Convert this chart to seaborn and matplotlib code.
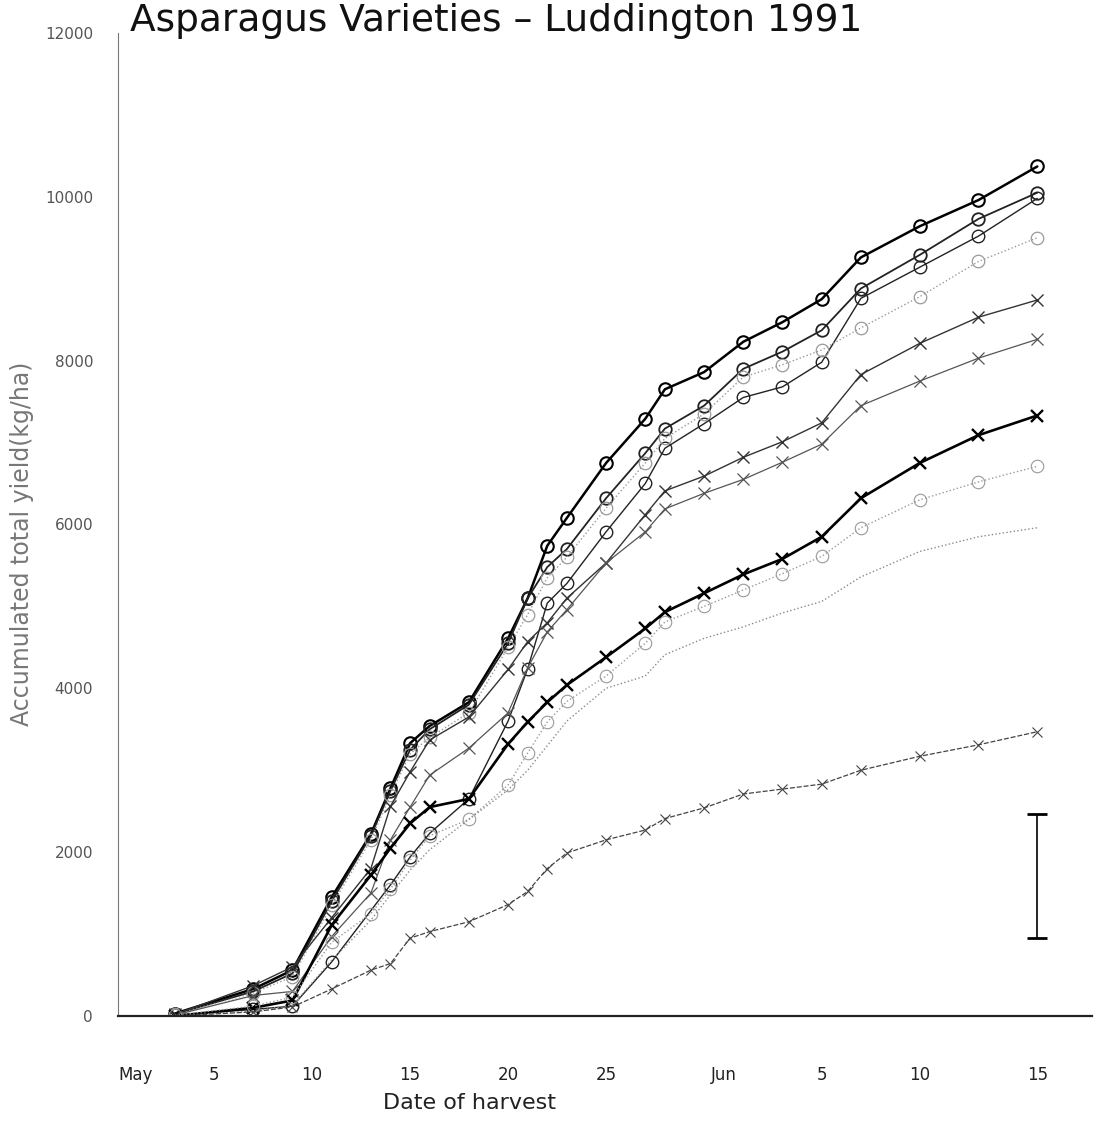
import numpy as np
import pandas as pd
import matplotlib
matplotlib.use("Agg")
import matplotlib.pyplot as plt
import seaborn as sns

# ---- data ----
harvest_day = [3, 7, 9, 11, 13, 14, 15, 16, 18, 20, 21, 22, 23, 25, 27, 28, 30, 32, 34, 36, 38, 41, 44, 47]

var_a = [30, 330, 560, 1450, 2220, 2780, 3330, 3540, 3830, 4610, 5100, 5740, 6080, 6750, 7290, 7650, 7860, 8230, 8470, 8750, 9260, 9640, 9960, 10370]
var_b = [20, 300, 520, 1400, 2200, 2750, 3250, 3500, 3800, 4550, 5100, 5480, 5700, 6320, 6870, 7170, 7450, 7900, 8110, 8370, 8880, 9290, 9730, 10050]
var_c = [10, 80, 120, 660, None, 1600, 1940, 2230, 2650, 3600, 4240, 5040, 5280, 5910, 6500, 6930, 7230, 7550, 7680, 7980, 8760, 9140, 9520, 9980]
var_d = [20, 280, 480, 1350, 2150, 2700, 3200, 3400, 3700, 4500, 4900, 5350, 5600, 6200, 6750, 7050, 7350, 7800, 7950, 8130, 8400, 8780, 9210, 9500]
var_e = [20, 370, 600, 1200, 1800, 2560, 2980, 3370, 3650, 4230, 4570, 4800, 5100, 5530, 6120, 6410, 6590, 6820, 7010, 7240, 7830, 8210, 8530, 8740]
var_f = [10, 250, 300, 970, 1500, 2150, 2550, 2940, 3270, 3700, 4250, 4690, 4960, 5530, 5910, 6190, 6380, 6550, 6760, 6980, 7450, 7750, 8030, 8260]
var_g = [0, 100, 190, 1110, 1720, 2050, 2350, 2550, 2650, 3320, 3590, 3830, 4040, 4380, 4730, 4930, 5160, 5390, 5580, 5850, 6320, 6750, 7090, 7330]
var_h = [10, 120, 230, 900, 1250, 1550, 1900, 2200, 2400, 2820, 3210, 3590, 3840, 4150, 4550, 4810, 5000, 5200, 5400, 5610, 5960, 6300, 6520, 6710]
var_i = [0, 60, 130, 680, 1170, 1480, 1780, 2030, 2400, 2760, 3000, 3300, 3600, 4000, 4150, 4410, 4610, 4750, 4920, 5060, 5360, 5670, 5850, 5960]
var_j = [0, 50, 110, 330, 560, 640, 950, 1030, 1150, 1360, 1520, 1800, 1990, 2150, 2270, 2410, 2540, 2710, 2770, 2830, 3000, 3170, 3310, 3470]

series_names = ["A", "B", "C", "D", "E", "F", "G", "H", "I", "J"]
series_values = [var_a, var_b, var_c, var_d, var_e, var_f, var_g, var_h, var_i, var_j]

tick_pos = [1, 5, 10, 15, 20, 25, 31, 36, 41, 47]
tick_labels = ["May", "5", "10", "15", "20", "25", "Jun", "5", "10", "15"]

lsd_day = [47]
lsd_center = [1710]
lsd_half = [760]

# ---- styles ----
styles = {
    "A": dict(color="black", lw=1.8, ls="-", marker="o", ms=9, mew=1.5),
    "B": dict(color="#222222", lw=1.3, ls="-", marker="o", ms=9, mew=1.3),
    "C": dict(color="#222222", lw=1.0, ls="-", marker="o", ms=9, mew=1.0),
    "D": dict(color="#9a9a9a", lw=1.0, ls=":", marker="o", ms=9, mew=0.9),
    "E": dict(color="#333333", lw=1.0, ls="-", marker="x", ms=8, mew=1.0),
    "F": dict(color="#555555", lw=0.9, ls="-", marker="x", ms=8, mew=0.9),
    "G": dict(color="black", lw=1.9, ls="-", marker="x", ms=9, mew=1.7),
    "H": dict(color="#9a9a9a", lw=1.0, ls=":", marker="o", ms=9, mew=0.8),
    "I": dict(color="#8a8a8a", lw=1.0, ls=":", marker=None, ms=0, mew=0),
    "J": dict(color="#444444", lw=0.9, ls=(0, (4, 1.5)), marker="x", ms=7, mew=0.8),
}

sns.set_style("white")
plt.rcParams["font.family"] = ["DejaVu Sans"]

fig = plt.figure(figsize=(10.97, 11.24), dpi=100)
ax = fig.add_axes([0.1076, 0.0961, 0.888, 0.8746])

for name, vals in zip(series_names, series_values):
    df = pd.DataFrame({"day": harvest_day, "yield": vals}).dropna()
    st = styles[name]
    kw = dict(x="day", y="yield", data=df, ax=ax, color=st["color"],
              linewidth=st["lw"], linestyle=st["ls"], legend=False)
    if st["marker"]:
        kw.update(marker=st["marker"], markersize=st["ms"],
                  markeredgewidth=st["mew"], markerfacecolor="none",
                  markeredgecolor=st["color"])
    sns.lineplot(**kw)

ax.errorbar(lsd_day, lsd_center, yerr=lsd_half, fmt="none", ecolor="black",
            elinewidth=1.2, capsize=7, capthick=2)

ax.set_xlim(0.1, 49.8)
ax.set_ylim(0, 12000)

ax.set_xticks(tick_pos)
ax.set_xticklabels(tick_labels)
ax.tick_params(axis="x", direction="out", length=12, width=0.9, color="#333333",
               pad=24, labelsize=12, labelcolor="#222222")
ax.set_yticks(np.arange(0, 12001, 2000))
ax.tick_params(axis="y", direction="out", length=4, width=0.8, color="#666666",
               pad=14, labelsize=11, labelcolor="#555555")

for s in ["top", "right"]:
    ax.spines[s].set_visible(False)
ax.spines["left"].set_color("#777777")
ax.spines["left"].set_linewidth(0.8)
ax.spines["bottom"].set_color("#222222")
ax.spines["bottom"].set_linewidth(1.6)

ax.set_xlabel("Date of harvest", fontsize=16, color="#222222")
ax.xaxis.set_label_coords(0.361, -0.078)
ax.set_ylabel("Accumulated total yield(kg/ha)", fontsize=17, color="#777777")
ax.yaxis.set_label_coords(-0.086, 0.48)

fig.text(130 / 1097, 1 - 31 / 1124, "Asparagus Varieties – Luddington 1991",
         fontsize=27, color="#111111", ha="left", va="baseline")

fig.savefig("out.png", dpi=100, facecolor="white")
